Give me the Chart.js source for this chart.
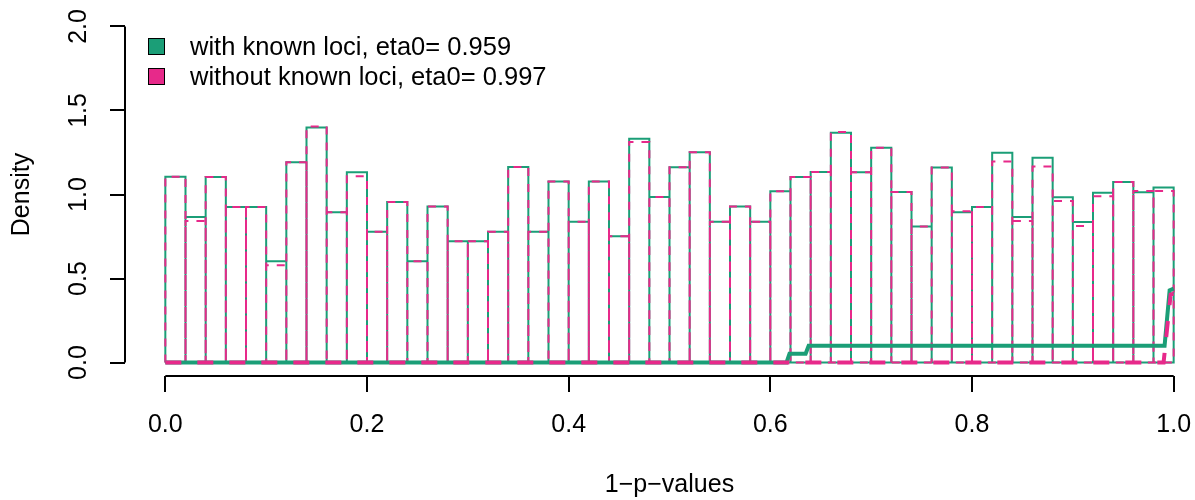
<!DOCTYPE html>
<html>
<head>
<meta charset="utf-8">
<script src="https://cdn.jsdelivr.net/npm/chart.js@4"></script>
<style>
  body { margin: 0; background: #fff; overflow: hidden; }
  /* the plot region runs a bit past the right edge, like the cropped original */
  #wrap { position: relative; width: 1195px; height: 500px; overflow: hidden; }
  #legend { position: absolute; left: 148px; top: 31px; font: 25.5px "Liberation Sans", Arial, sans-serif; color: #000; }
  #legend .row { display: flex; align-items: center; height: 30px; white-space: nowrap; }
  #legend .box { width: 15px; height: 15px; border: 1px solid #000; margin-right: 25px; }
</style>
</head>
<body>
<div id="wrap">
  <canvas id="myChart" width="1214" height="500"></canvas>
  <div id="legend"></div>
</div>
<script>
// bin edges of the histogram (50 bins on 0..1)
const breaks = [0.00, 0.02, 0.04, 0.06, 0.08, 0.10, 0.12, 0.14, 0.16, 0.18,
                0.20, 0.22, 0.24, 0.26, 0.28, 0.30, 0.32, 0.34, 0.36, 0.38,
                0.40, 0.42, 0.44, 0.46, 0.48, 0.50, 0.52, 0.54, 0.56, 0.58,
                0.60, 0.62, 0.64, 0.66, 0.68, 0.70, 0.72, 0.74, 0.76, 0.78,
                0.80, 0.82, 0.84, 0.86, 0.88, 0.90, 0.92, 0.94, 0.96, 0.98, 1.00]

// densities per bin
const withKnown = [1.105, 0.866, 1.104, 0.925, 0.925, 0.603, 1.192, 1.399, 0.894, 1.133,
                   0.778, 0.955, 0.603, 0.929, 0.722, 0.722, 0.778, 1.164, 0.778, 1.077,
                   0.838, 1.077, 0.752, 1.331, 0.985, 1.162, 1.252, 0.838, 0.928, 0.838,
                   1.019, 1.104, 1.134, 1.368, 1.133, 1.278, 1.015, 0.810, 1.160, 0.894,
                   0.925, 1.248, 0.866, 1.218, 0.983, 0.836, 1.011, 1.075, 1.013, 1.041]
const withoutKnown = [1.105, 0.842, 1.104, 0.925, 0.925, 0.579, 1.192, 1.405, 0.894, 1.109,
                      0.778, 0.955, 0.603, 0.929, 0.722, 0.722, 0.778, 1.164, 0.778, 1.077,
                      0.838, 1.077, 0.752, 1.312, 0.985, 1.162, 1.252, 0.838, 0.928, 0.838,
                      1.019, 1.104, 1.134, 1.372, 1.133, 1.278, 1.015, 0.810, 1.160, 0.900,
                      0.925, 1.196, 0.842, 1.166, 0.961, 0.812, 0.989, 1.075, 1.021, 1.021]

// the thick curves along the bottom
const greenCurveX = [0, 0.616, 0.619, 0.635, 0.638, 0.991, 0.996, 1.0]
const greenCurveY = [0, 0, 0.053, 0.053, 0.100, 0.100, 0.430, 0.440]
const pinkCurveX = [0, 0.990, 0.997, 1.0]
const pinkCurveY = [0, 0, 0.405, 0.410]

// axis ticks
const xTicks = [0, 0.2, 0.4, 0.6, 0.8, 1.0]
const yTicks = [0, 0.5, 1.0, 1.5, 2.0]

const legendLabels = ['with known loci, eta0= 0.959', 'without known loci, eta0= 0.997']
const green = '#1B9E77'
const pink = '#E7298A'

Chart.defaults.font.family = '"Liberation Sans", Arial, sans-serif'
Chart.defaults.color = '#000'

// trace every bin as its own rectangle, like hist() does
function histOutline(heights) {
    let pts = []
    for (let i = 0; i < heights.length; i++) {
        pts.push({x: breaks[i], y: 0})
        pts.push({x: breaks[i], y: heights[i]})
        pts.push({x: breaks[i + 1], y: heights[i]})
        pts.push({x: breaks[i + 1], y: 0})
    }
    pts.push({x: breaks[0], y: 0})
    return pts
}

function curve(xs, ys) {
    return xs.map((x, i) => ({x: x, y: ys[i]}))
}

// R style axis lines that only run between the first and last tick
const rAxes = {
    id: 'rAxes',
    afterDraw(chart) {
        const ctx = chart.ctx
        const x = chart.scales.x
        const y = chart.scales.y
        const area = chart.chartArea
        ctx.save()
        ctx.strokeStyle = '#000'
        ctx.lineWidth = 2
        ctx.beginPath()
        ctx.moveTo(x.getPixelForValue(xTicks[0]), area.bottom)
        ctx.lineTo(x.getPixelForValue(xTicks[xTicks.length - 1]), area.bottom)
        ctx.moveTo(area.left, y.getPixelForValue(yTicks[0]))
        ctx.lineTo(area.left, y.getPixelForValue(yTicks[yTicks.length - 1]))
        ctx.stroke()
        ctx.restore()
    }
}

let ctx = document.getElementById('myChart').getContext('2d')

let chart = new Chart(ctx, {
    type: 'line',
    data: {
        datasets: [
            {
                label: 'without curve',
                data: curve(pinkCurveX, pinkCurveY),
                borderColor: pink,
                borderWidth: 4,
                borderDash: [16, 16]
            },
            {
                label: 'with curve',
                data: curve(greenCurveX, greenCurveY),
                borderColor: green,
                borderWidth: 4
            },
            {
                label: legendLabels[1],
                data: histOutline(withoutKnown),
                borderColor: pink,
                borderWidth: 2,
                borderDash: [8, 8]
            },
            {
                label: legendLabels[0],
                data: histOutline(withKnown),
                borderColor: green,
                borderWidth: 2
            }
        ]
    },
    options: {
        responsive: false,
        animation: false,
        devicePixelRatio: 1,
        elements: {
            point: { radius: 0, hoverRadius: 0 },
            line: { tension: 0, fill: false, borderJoinStyle: 'miter', borderCapStyle: 'butt' }
        },
        layout: { padding: { top: 13, right: 0, bottom: 0, left: 0 } },
        plugins: {
            legend: { display: false },
            tooltip: { enabled: false }
        },
        scales: {
            x: {
                type: 'linear',
                min: -0.04,
                max: 1.04,
                afterBuildTicks: (s) => { s.ticks = xTicks.map(v => ({value: v})) },
                afterFit: (s) => {
                    s.height = 124
                    s.paddingLeft = 0
                    s.paddingRight = 0
                },
                border: { display: false },
                grid: { drawOnChartArea: false, drawTicks: true, tickLength: 16, color: '#000', lineWidth: 2 },
                ticks: {
                    font: { size: 25 },
                    color: '#000',
                    padding: 18,
                    maxRotation: 0,
                    autoSkip: false,
                    callback: (v) => Number(v).toFixed(1)
                },
                title: {
                    display: true,
                    text: '1\u2212p\u2212values',
                    font: { size: 25 },
                    color: '#000',
                    padding: { top: 0, bottom: 0 }
                }
            },
            y: {
                min: -0.08,
                max: 2.08,
                afterBuildTicks: (s) => { s.ticks = yTicks.map(v => ({value: v})) },
                afterFit: (s) => {
                    s.width = 125
                    s.paddingTop = 0
                    s.paddingBottom = 0
                },
                border: { display: false },
                grid: { drawOnChartArea: false, drawTicks: true, tickLength: 15, color: '#000', lineWidth: 2 },
                ticks: {
                    font: { size: 25 },
                    color: '#000',
                    padding: 14,
                    minRotation: 90,
                    maxRotation: 90,
                    crossAlign: 'center',
                    autoSkip: false,
                    callback: (v) => Number(v).toFixed(1)
                },
                title: {
                    display: true,
                    text: 'Density',
                    font: { size: 25 },
                    color: '#000',
                    padding: { top: 7, bottom: 0 }
                }
            }
        }
    },
    plugins: [rAxes]
})

// legend in the top left corner, filled boxes with black border
const legendColors = [green, pink]
document.getElementById('legend').innerHTML = legendLabels.map((t, i) =>
    `<div class="row"><span class="box" style="background:${legendColors[i]}"></span><span>${t}</span></div>`
).join('')
</script>
</body>
</html>
